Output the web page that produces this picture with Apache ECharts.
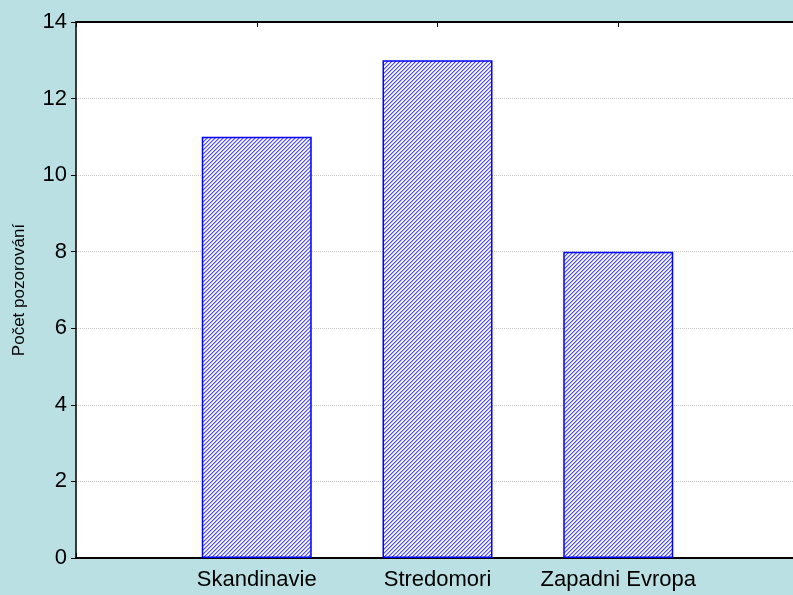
<!DOCTYPE html>
<html>
<head>
<meta charset="utf-8">
<script src="https://cdn.jsdelivr.net/npm/echarts@6/dist/echarts.min.js"></script>
<style>
  html, body { margin: 0; padding: 0; background: #bae0e3; }
  #chart { width: 793px; height: 595px; }
</style>
</head>
<body>
<div id="chart"></div>
<script>
// data
const categories = ["", "Skandinavie", "Stredomori", "Zapadni Evropa", ""];
const counts = ["-", 11, 13, 8, "-"];
const yName = "Počet pozorování";
const yMin = 0, yMax = 14, yStep = 2;

// diagonal hatch for the bars
function makeHatch() {
  const c = document.createElement("canvas");
  c.width = 4; c.height = 4;
  const ctx = c.getContext("2d");
  const img = ctx.createImageData(4, 4);
  const cols = [[80, 80, 255], [170, 170, 255], [255, 255, 255], [225, 225, 255]];
  for (let y = 0; y < 4; y++) {
    for (let x = 0; x < 4; x++) {
      const col = cols[(x + y) % 4];
      const i = (y * 4 + x) * 4;
      img.data[i] = col[0]; img.data[i + 1] = col[1]; img.data[i + 2] = col[2]; img.data[i + 3] = 255;
    }
  }
  ctx.putImageData(img, 0, 0);
  return c;
}

const font = "Liberation Sans, Arial";
const chart = echarts.init(document.getElementById("chart"));
chart.setOption({
  backgroundColor: "#bae0e3",
  animation: false,
  grid: {
    left: 76, top: 22, width: 723, height: 536,
    outerBoundsMode: "none",
    show: true, backgroundColor: "#ffffff", borderWidth: 0
  },
  xAxis: [
    {
      type: "category",
      data: categories,
      boundaryGap: false,
      position: "bottom",
      axisLine: { lineStyle: { color: "#000", width: 2 } },
      axisTick: { inside: true, length: 5, interval: 0, lineStyle: { color: "#000" } },
      axisLabel: { interval: 0, margin: 11, color: "#000", fontSize: 22, fontFamily: font },
      splitLine: { show: false }
    },
    {
      type: "category",
      data: categories,
      boundaryGap: false,
      position: "top",
      axisLine: { lineStyle: { color: "#000", width: 2 } },
      axisTick: { inside: true, length: 5, interval: 0, lineStyle: { color: "#000" } },
      axisLabel: { show: false },
      splitLine: { show: false }
    }
  ],
  yAxis: {
    type: "value",
    min: yMin, max: yMax, interval: yStep,
    name: yName,
    nameLocation: "middle",
    nameGap: 48,
    nameTextStyle: { color: "#000", fontSize: 17, fontFamily: font },
    axisLine: { show: true, lineStyle: { color: "#000", width: 1.5 } },
    axisTick: { show: true, length: 5, lineStyle: { color: "#000" } },
    axisLabel: { margin: 9, color: "#000", fontSize: 22, fontFamily: font },
    splitLine: { show: true, lineStyle: { color: "#c8c8c8", type: "dotted", width: 1 } }
  },
  series: [
    {
      type: "bar",
      data: counts,
      barWidth: 110,
      itemStyle: {
        color: { image: makeHatch(), repeat: "repeat" },
        borderColor: "#0000ff",
        borderWidth: 1.5
      }
    }
  ]
});
</script>
</body>
</html>
